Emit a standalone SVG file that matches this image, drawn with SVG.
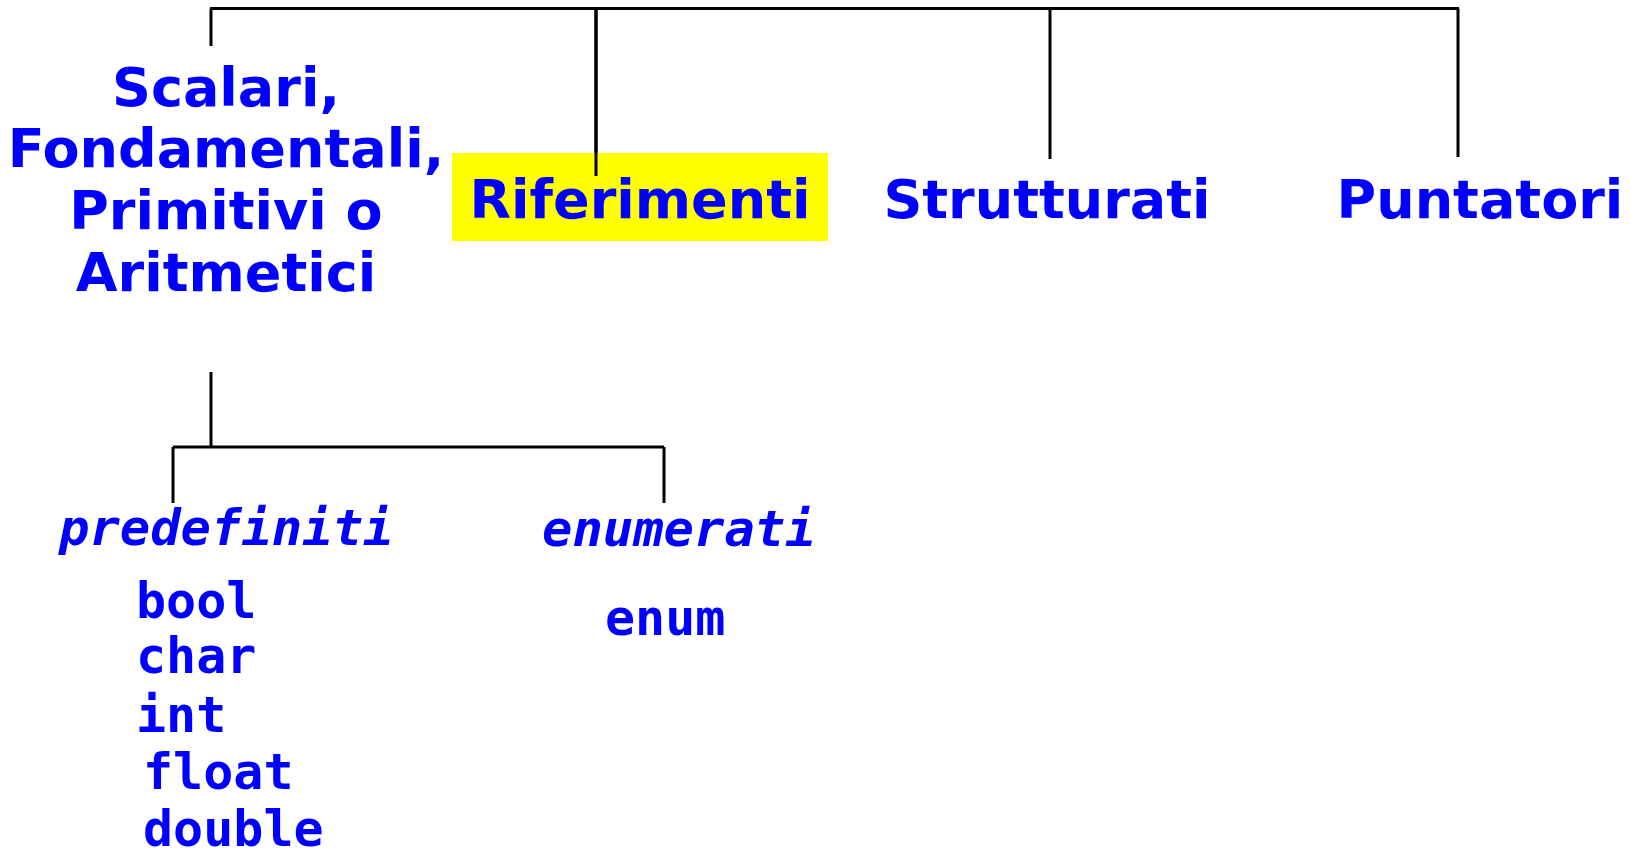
<svg xmlns="http://www.w3.org/2000/svg" width="1631" height="853" viewBox="0 0 1631 853">
<style>
.h{font-family:"DejaVu Sans","Verdana",sans-serif;font-weight:bold;font-size:54px;fill:#0000FF;text-anchor:middle}
.m{font-family:"DejaVu Sans Mono","Liberation Mono",monospace;font-weight:bold;font-size:50px;fill:#0000FF}
.i{font-family:"DejaVu Sans Mono","Liberation Mono",monospace;font-weight:bold;font-style:italic;font-size:50.5px;fill:#0000FF}
.c{stroke:#000;stroke-width:3;fill:none}
</style>
<rect width="1631" height="853" fill="#fff"/>
<g id="connectors">
<path class="c" d="M210 8.5H1459M211 8.5V46M596 8.5V176M1050 8.5V159M1458 8.5V157"/>
<path class="c" d="M211 372V447M173 447H664M173 447V503M664 447V503"/>
</g>
<g id="scalari">
<text class="h" x="226" y="106">Scalari,</text>
<text class="h" x="226" y="167">Fondamentali,</text>
<text class="h" x="226" y="229">Primitivi o</text>
<text class="h" x="226" y="291">Aritmetici</text>
</g>
<g id="riferimenti">
<rect x="452" y="153" width="376" height="88" fill="#FFFF00"/>
<text class="h" x="640" y="218">Riferimenti</text>
</g>
<g id="strutturati">
<text class="h" x="1047" y="218">Strutturati</text>
</g>
<g id="puntatori">
<text class="h" x="1480" y="218">Puntatori</text>
</g>
<g id="predefiniti">
<text class="i" x="59" y="545">predefiniti</text>
<text class="m" x="136" y="618">bool</text>
<text class="m" x="136" y="673">char</text>
<text class="m" x="136" y="732">int</text>
<text class="m" x="143" y="789">float</text>
<text class="m" x="143" y="846">double</text>
</g>
<g id="enumerati">
<text class="i" x="542" y="546">enumerati</text>
<text class="m" x="605" y="635">enum</text>
</g>
<path class="c" d="M596 8.5V176"/>
</svg>
